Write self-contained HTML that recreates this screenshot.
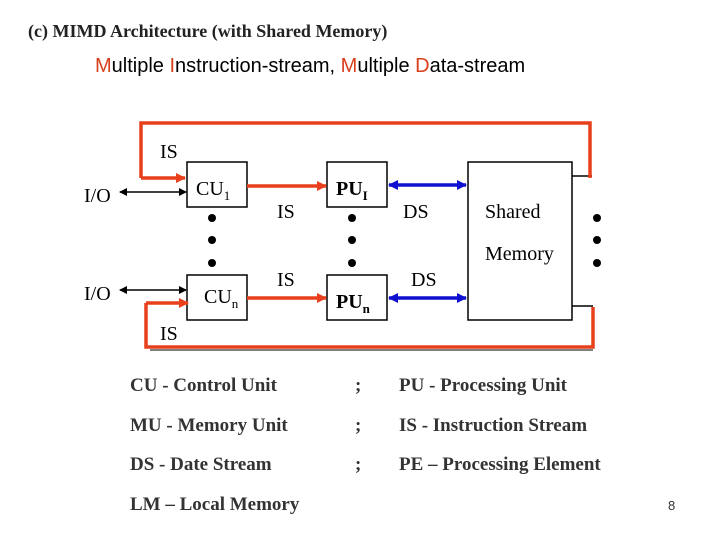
<!DOCTYPE html>
<html><head><style>
body{margin:0;background:#fff;}
svg{display:block;}
.s{font-family:"Liberation Serif",serif;}
</style></head><body>
<svg width="720" height="540" viewBox="0 0 720 540" xmlns="http://www.w3.org/2000/svg">
<defs>
<marker id="ak" markerWidth="8" markerHeight="8" refX="7" refY="4" orient="auto-start-reverse" markerUnits="userSpaceOnUse"><path d="M0,0 L8,4 L0,8 z" fill="#000"/></marker>
<marker id="ab" markerWidth="10" markerHeight="10" refX="9" refY="5" orient="auto-start-reverse" markerUnits="userSpaceOnUse"><path d="M0,0 L10,5 L0,10 z" fill="#1010d0"/></marker>
<marker id="ar" markerWidth="10" markerHeight="10" refX="9" refY="5" orient="auto" markerUnits="userSpaceOnUse"><path d="M0,0 L10,5 L0,10 z" fill="#e8401c"/></marker>
</defs>
<text x="28" y="37" class="s" font-size="18" font-weight="bold" fill="#222">(c) MIMD Architecture (with Shared Memory)</text>
<text x="95" y="72" font-family="Liberation Sans,sans-serif" font-size="20" fill="#000"><tspan fill="#d8401c">M</tspan>ultiple <tspan fill="#d8401c">I</tspan>nstruction-stream, <tspan fill="#d8401c">M</tspan>ultiple <tspan fill="#d8401c">D</tspan>ata-stream</text>

<g fill="none" stroke="#000" stroke-width="1.5">
<rect x="187" y="162" width="60" height="45"/>
<rect x="327" y="162" width="60" height="45"/>
<rect x="187" y="275" width="60" height="45"/>
<rect x="327" y="275" width="60" height="45"/>
<rect x="468" y="162" width="104" height="158"/>
<line x1="572" y1="176" x2="592" y2="176"/>
<line x1="572" y1="306" x2="593" y2="306"/>
<line x1="150" y1="350" x2="593" y2="350" stroke-width="1"/>
</g>
<g stroke="#000" stroke-width="1.5">
<line x1="120" y1="192" x2="186" y2="192" marker-start="url(#ak)" marker-end="url(#ak)"/>
<line x1="120" y1="290" x2="186" y2="290" marker-start="url(#ak)" marker-end="url(#ak)"/>
</g>
<g fill="none" stroke="#e8401c" stroke-width="3.5">
<polyline points="141,178 141,123 590,123 590,178"/>
<polyline points="141,178 185,178" marker-end="url(#ar)"/>
<polyline points="146,303 146,347 593,347 593,307"/>
<line x1="146" y1="303" x2="188" y2="303" marker-end="url(#ar)"/>
<line x1="247" y1="186" x2="326" y2="186" marker-end="url(#ar)"/>
<line x1="247" y1="298" x2="326" y2="298" marker-end="url(#ar)"/>
</g>
<g stroke="#1010d0" stroke-width="3.5">
<line x1="389" y1="185" x2="466" y2="185" marker-start="url(#ab)" marker-end="url(#ab)"/>
<line x1="389" y1="298" x2="466" y2="298" marker-start="url(#ab)" marker-end="url(#ab)"/>
</g>
<g fill="#000">
<circle cx="212" cy="218" r="4"/><circle cx="212" cy="240" r="4"/><circle cx="212" cy="263" r="4"/>
<circle cx="352" cy="218" r="4"/><circle cx="352" cy="240" r="4"/><circle cx="352" cy="263" r="4"/>
<circle cx="597" cy="218" r="4"/><circle cx="597" cy="240" r="4"/><circle cx="597" cy="263" r="4"/>
</g>
<g class="s" font-size="20" fill="#000">
<text x="160" y="158">IS</text>
<text x="84" y="202">I/O</text>
<text x="84" y="300">I/O</text>
<text x="196" y="195">CU<tspan font-size="13" dy="5">1</tspan></text>
<text x="204" y="303">CU<tspan font-size="13" dy="5">n</tspan></text>
<text x="336" y="195" font-weight="bold">PU<tspan font-size="13" dy="5">I</tspan></text>
<text x="336" y="308" font-weight="bold">PU<tspan font-size="13" dy="5">n</tspan></text>
<text x="277" y="218">IS</text>
<text x="277" y="286">IS</text>
<text x="403" y="218">DS</text>
<text x="411" y="286">DS</text>
<text x="485" y="218">Shared</text>
<text x="485" y="260">Memory</text>
<text x="160" y="340">IS</text>
</g>
<g class="s" font-size="19" font-weight="bold" fill="#333">
<text x="130" y="391">CU - Control Unit</text>
<text x="130" y="431">MU - Memory Unit</text>
<text x="130" y="470">DS - Date Stream</text>
<text x="130" y="510">LM – Local Memory</text>
<text x="355" y="391">;</text>
<text x="355" y="431">;</text>
<text x="355" y="470">;</text>
<text x="399" y="391">PU - Processing Unit</text>
<text x="399" y="431">IS - Instruction Stream</text>
<text x="399" y="470">PE – Processing Element</text>
</g>
<text x="668" y="510" font-family="Liberation Sans,sans-serif" font-size="13" fill="#333">8</text>
</svg>
</body></html>
